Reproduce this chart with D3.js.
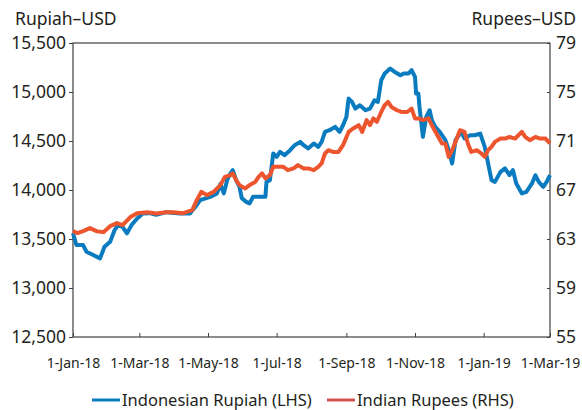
<!DOCTYPE html>
<html>
<head>
<meta charset="utf-8">
<script src="https://cdn.jsdelivr.net/npm/d3@7"></script>
<style>
  body { margin: 0; background: #fff; }
  svg text { font-family: "Noto Sans", sans-serif; fill: #231f20; }
  .axis line { stroke: #404040; }
</style>
</head>
<body>
<div id="chart"></div>
<script>
// Values
var rupiahDates = ["2018-01-01","2018-01-04","2018-01-10","2018-01-13","2018-01-19","2018-01-25","2018-01-29","2018-02-03","2018-02-07","2018-02-10","2018-02-14","2018-02-18","2018-02-22","2018-02-27","2018-03-04","2018-03-10","2018-03-16","2018-03-25","2018-04-06","2018-04-15","2018-04-21","2018-04-24","2018-05-03","2018-05-09","2018-05-12","2018-05-15","2018-05-18","2018-05-21","2018-05-23","2018-05-26","2018-05-29","2018-05-31","2018-06-04","2018-06-07","2018-06-10","2018-06-16","2018-06-21","2018-06-22","2018-06-25","2018-06-28","2018-07-01","2018-07-04","2018-07-08","2018-07-13","2018-07-17","2018-07-22","2018-07-25","2018-07-29","2018-08-03","2018-08-07","2018-08-10","2018-08-13","2018-08-17","2018-08-22","2018-08-26","2018-08-29","2018-09-01","2018-09-03","2018-09-06","2018-09-09","2018-09-13","2018-09-18","2018-09-22","2018-09-26","2018-09-29","2018-10-02","2018-10-05","2018-10-10","2018-10-14","2018-10-19","2018-10-22","2018-10-26","2018-10-29","2018-11-01","2018-11-02","2018-11-04","2018-11-05","2018-11-07","2018-11-08","2018-11-11","2018-11-14","2018-11-16","2018-11-19","2018-11-23","2018-11-28","2018-12-01","2018-12-04","2018-12-07","2018-12-09","2018-12-12","2018-12-15","2018-12-20","2018-12-24","2018-12-29","2019-01-02","2019-01-05","2019-01-08","2019-01-11","2019-01-16","2019-01-20","2019-01-24","2019-01-27","2019-01-30","2019-02-04","2019-02-08","2019-02-13","2019-02-16","2019-02-19","2019-02-23","2019-02-26","2019-03-01"];
var rupiahValues = [13560,13438,13438,13370,13336,13302,13420,13471,13591,13642,13624,13557,13642,13710,13761,13764,13747,13774,13761,13761,13846,13897,13930,13965,14060,13965,14100,14169,14203,14100,14032,13917,13879,13863,13930,13930,13930,14083,14100,14373,14338,14389,14355,14406,14457,14491,14457,14424,14475,14440,14491,14593,14610,14644,14593,14661,14746,14933,14899,14831,14865,14814,14830,14916,14899,15120,15188,15239,15205,15171,15188,15188,15222,15154,14984,14984,14848,14644,14542,14746,14814,14712,14644,14593,14508,14406,14271,14508,14542,14593,14526,14559,14559,14576,14440,14271,14100,14083,14185,14220,14151,14203,14067,13965,13981,14067,14151,14083,14032,14083,14151];

var rupeeDates = ["2018-01-01","2018-01-05","2018-01-10","2018-01-16","2018-01-22","2018-01-28","2018-02-03","2018-02-09","2018-02-14","2018-02-21","2018-02-27","2018-03-08","2018-03-16","2018-03-25","2018-03-31","2018-04-09","2018-04-17","2018-04-21","2018-04-25","2018-04-30","2018-05-06","2018-05-12","2018-05-16","2018-05-21","2018-05-23","2018-05-26","2018-05-29","2018-06-03","2018-06-07","2018-06-12","2018-06-15","2018-06-18","2018-06-21","2018-06-25","2018-06-28","2018-07-02","2018-07-07","2018-07-11","2018-07-16","2018-07-20","2018-07-25","2018-07-29","2018-08-03","2018-08-07","2018-08-10","2018-08-13","2018-08-16","2018-08-20","2018-08-25","2018-08-29","2018-09-03","2018-09-07","2018-09-12","2018-09-15","2018-09-19","2018-09-22","2018-09-25","2018-09-28","2018-10-02","2018-10-05","2018-10-08","2018-10-11","2018-10-16","2018-10-20","2018-10-25","2018-10-29","2018-11-01","2018-11-04","2018-11-08","2018-11-13","2018-11-16","2018-11-20","2018-11-25","2018-11-28","2018-12-01","2018-12-04","2018-12-07","2018-12-11","2018-12-15","2018-12-18","2018-12-21","2018-12-26","2018-12-30","2019-01-02","2019-01-05","2019-01-08","2019-01-11","2019-01-16","2019-01-20","2019-01-24","2019-01-29","2019-02-04","2019-02-07","2019-02-11","2019-02-16","2019-02-20","2019-02-25","2019-03-01"];
var rupeeValues = [63.64,63.48,63.64,63.89,63.64,63.56,64.05,64.30,64.13,64.79,65.11,65.19,65.09,65.19,65.19,65.11,65.36,66.17,66.85,66.58,66.85,67.40,68.07,68.21,68.35,67.80,67.40,67.13,67.40,67.66,68.07,68.35,67.94,68.21,68.89,68.89,68.89,68.62,68.76,69.03,68.76,68.76,68.62,68.89,69.17,69.98,70.25,70.11,70.11,70.66,71.74,72.02,72.29,71.74,72.70,72.29,72.84,72.56,73.37,73.92,74.19,73.78,73.51,73.37,73.37,73.65,72.84,72.84,72.70,72.84,72.29,71.61,70.80,70.80,69.70,70.25,70.93,71.88,71.74,70.80,70.11,70.25,69.98,69.70,70.25,70.52,70.93,71.20,71.20,71.33,71.20,71.74,71.33,71.07,71.33,71.20,71.20,70.80];

var leftTicks = [12500, 13000, 13500, 14000, 14500, 15000, 15500];
var rightTicks = [55, 59, 63, 67, 71, 75, 79];
var dateTicks = ["2018-01-01","2018-03-01","2018-05-01","2018-07-01","2018-09-01","2018-11-01","2019-01-01","2019-03-01"];
var legendNames = ["Indonesian Rupiah (LHS)", "Indian Rupees (RHS)"];

var blue = "#0a7bbf";
var red = "#ec552e";

//Set Dimensions
var outerW = 582, outerH = 410;
var margin = {left: 73, right: 32, top: 43, bottom: 73};
var width = outerW - margin.left - margin.right;
var height = outerH - margin.top - margin.bottom;

var parseDate = d3.timeParse("%Y-%m-%d");
var fmtDate = d3.timeFormat("%-d-%b-%y");

var rupiah = rupiahDates.map((d, i) => ({date: parseDate(d), value: rupiahValues[i]}));
var rupee = rupeeDates.map((d, i) => ({date: parseDate(d), value: rupeeValues[i]}));

var svg = d3.select("#chart").append("svg")
  .attr("width", outerW)
  .attr("height", outerH);

//Prepare scales
var x = d3.scaleTime()
  .domain([parseDate(dateTicks[0]), parseDate(dateTicks[dateTicks.length - 1])])
  .range([0, width]);
var yL = d3.scaleLinear().domain([12500, 15500]).range([height, 0]);
var yR = d3.scaleLinear().domain([55, 79]).range([height, 0]);

var g = svg.append("g")
  .attr("transform", "translate(" + margin.left + "," + margin.top + ")");

// Left axis
g.append("g")
  .attr("class", "axis")
  .call(d3.axisLeft(yL).tickValues(leftTicks).tickFormat(d3.format(",")).tickSizeInner(4).tickSizeOuter(0).tickPadding(3))
  .call(a => a.select(".domain").remove())
  .selectAll("text").style("font-size", "17.5px");

// Right axis, ticks inward
g.append("g")
  .attr("class", "axis")
  .attr("transform", "translate(" + width + ",0)")
  .call(d3.axisRight(yR).tickValues(rightTicks).tickSizeInner(-3).tickSizeOuter(0).tickPadding(6))
  .call(a => a.select(".domain").remove())
  .selectAll("text").style("font-size", "17.5px");

// Bottom axis, ticks inward
g.append("g")
  .attr("class", "axis")
  .attr("transform", "translate(0," + height + ")")
  .call(d3.axisBottom(x).tickValues(dateTicks.map(parseDate)).tickFormat(fmtDate).tickSizeInner(-4).tickSizeOuter(0).tickPadding(21))
  .call(a => a.select(".domain").remove())
  .selectAll("text").style("font-size", "14px");

// Frame
g.append("rect")
  .attr("width", width)
  .attr("height", height)
  .attr("fill", "none")
  .attr("stroke", "#404040")
  .attr("stroke-width", 1.2);

// Lines
var lineL = d3.line().x(d => x(d.date)).y(d => yL(d.value));
var lineR = d3.line().x(d => x(d.date)).y(d => yR(d.value));

g.append("path")
  .datum(rupiah)
  .attr("fill", "none")
  .attr("stroke", blue)
  .attr("stroke-width", 4)
  .attr("stroke-linejoin", "round")
  .attr("d", lineL);

g.append("path")
  .datum(rupee)
  .attr("fill", "none")
  .attr("stroke", red)
  .attr("stroke-width", 4)
  .attr("stroke-linejoin", "round")
  .attr("d", lineR);

// Axis titles
svg.append("text").attr("x", 15).attr("y", 25).style("font-size", "17.5px").text("Rupiah\u2013USD");
svg.append("text").attr("x", 576).attr("y", 25).attr("text-anchor", "end").style("font-size", "17.5px").text("Rupees\u2013USD");

// Legend
var legend = svg.append("g").attr("transform", "translate(0,400)");
[{x: 92, c: blue}, {x: 327, c: "#d0524f"}].forEach((l, i) => {
  legend.append("line")
    .attr("x1", l.x).attr("x2", l.x + 28)
    .attr("stroke", l.c).attr("stroke-width", 3);
  legend.append("text")
    .attr("x", l.x + 30).attr("dy", "0.36em")
    .style("font-size", "16.5px")
    .text(legendNames[i]);
});
</script>
</body>
</html>
